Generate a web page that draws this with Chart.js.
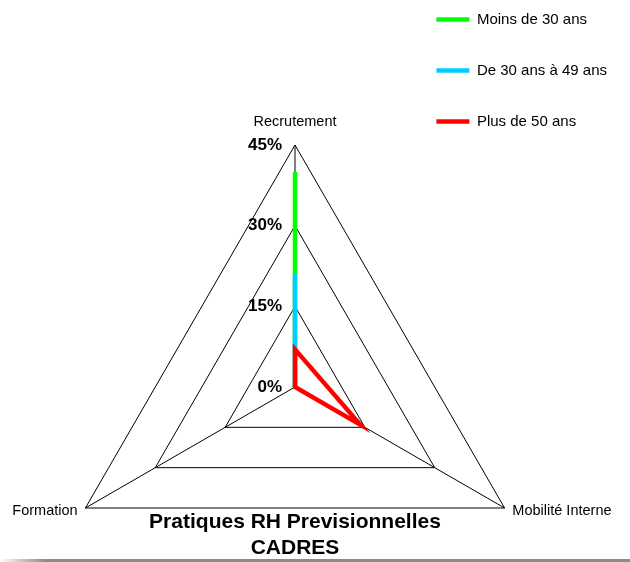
<!DOCTYPE html>
<html>
<head>
<meta charset="utf-8">
<script src="https://cdn.jsdelivr.net/npm/chart.js@4/dist/chart.umd.min.js"></script>
<style>
  html, body { margin: 0; padding: 0; background: #fff; }
  #wrap { position: relative; width: 630px; height: 562px; overflow: hidden; }
  #c { display: block; }
  #bar { position: absolute; left: 0; top: 559px; width: 630px; height: 3px;
         background: linear-gradient(to right, #ffffff 0px, #8c8c8c 45px, #8c8c8c 100%); }
</style>
</head>
<body>
<div id="wrap">
  <canvas id="c" width="630" height="562"></canvas>
  <div id="bar"></div>
</div>
<script>
// ---- data ----
const categories = ['Recrutement', 'Mobilité Interne', 'Formation'];
const seriesNames = ['Moins de 30 ans', 'De 30 ans à 49 ans', 'Plus de 50 ans'];
const moins30 = [40, 0, 0];
const de30a49 = [21, 0, 0];
const plus50 = [7, 14, 0];
const tickValues = [0, 15, 30, 45];
const titleLines = ['Pratiques RH Previsionnelles', 'CADRES'];

// ---- layout of the radar (geometry of the scale, not data) ----
const RADAR_CX = 295, RADAR_CY = 387, RADAR_R = 242;
const FONT = '"Liberation Sans", Arial, Helvetica, sans-serif';

Chart.defaults.font.family = FONT;
Chart.defaults.color = '#000';

const radarText = {
  id: 'radarText',
  afterDraw(chart) {
    const s = chart.scales.r;
    const ctx = chart.ctx;
    ctx.save();
    ctx.fillStyle = '#000';
    // tick labels, left of the vertical axis
    ctx.font = 'bold 17px ' + FONT;
    ctx.textAlign = 'right';
    ctx.textBaseline = 'middle';
    s.ticks.forEach(t => {
      const d = s.getDistanceFromCenterForValue(t.value);
      ctx.fillText(t.label, s.xCenter - 13, s.yCenter - d);
    });
    // category labels
    ctx.font = '14.5px ' + FONT;
    chart.data.labels.forEach((lab, i) => {
      const p = s.getPointPosition(i, s.drawingArea + 9);
      const dx = p.x - s.xCenter;
      if (Math.abs(dx) < 1) {
        ctx.textAlign = 'center';
        ctx.fillText(lab, p.x, p.y - 14);
      } else {
        ctx.textAlign = dx > 0 ? 'left' : 'right';
        ctx.fillText(lab, p.x, p.y - 2);
      }
    });
    ctx.restore();
  }
};

const common = { fill: false, borderWidth: 4.5, pointRadius: 0, pointHoverRadius: 0, pointHitRadius: 0,
                 tension: 0, clip: false, borderCapStyle: 'round', borderJoinStyle: 'miter' };

new Chart(document.getElementById('c'), {
  type: 'radar',
  data: {
    labels: categories,
    datasets: [
      Object.assign({ label: seriesNames[0], data: moins30, borderColor: '#00ff00', backgroundColor: '#00ff00', order: 3 }, common),
      Object.assign({ label: seriesNames[1], data: de30a49, borderColor: '#00ccff', backgroundColor: '#00ccff', order: 2 }, common),
      Object.assign({ label: seriesNames[2], data: plus50, borderColor: '#ff0000', backgroundColor: '#ff0000', order: 1 }, common)
    ]
  },
  options: {
    responsive: false,
    animation: false,
    devicePixelRatio: 1,
    events: [],
    layout: { padding: { top: -24, left: -27, right: 13, bottom: 0 } },
    scales: {
      r: {
        min: tickValues[0],
        max: tickValues[tickValues.length - 1],
        startAngle: 0,
        ticks: { stepSize: tickValues[1] - tickValues[0], display: false, callback: v => v + '%' },
        grid: { color: '#000', lineWidth: 1 },
        angleLines: { color: '#000', lineWidth: 1 },
        pointLabels: { display: false },
        afterFit(scale) {
          scale.xCenter = RADAR_CX;
          scale.yCenter = RADAR_CY;
          scale.drawingArea = RADAR_R;
        }
      }
    },
    plugins: {
      tooltip: { enabled: false },
      legend: {
        position: 'right',
        align: 'start',
        labels: {
          usePointStyle: true,
          pointStyle: 'line',
          pointStyleWidth: 33,
          padding: 36,
          color: '#000',
          font: { size: 15, family: FONT },
          sort: (a, b) => a.datasetIndex - b.datasetIndex
        }
      },
      title: {
        display: true,
        position: 'bottom',
        text: titleLines,
        color: '#000',
        font: { size: 21, weight: 'bold', family: FONT, lineHeight: 26 / 21 },
        padding: { top: 0, bottom: 1 }
      }
    }
  },
  plugins: [radarText]
});
</script>
</body>
</html>
